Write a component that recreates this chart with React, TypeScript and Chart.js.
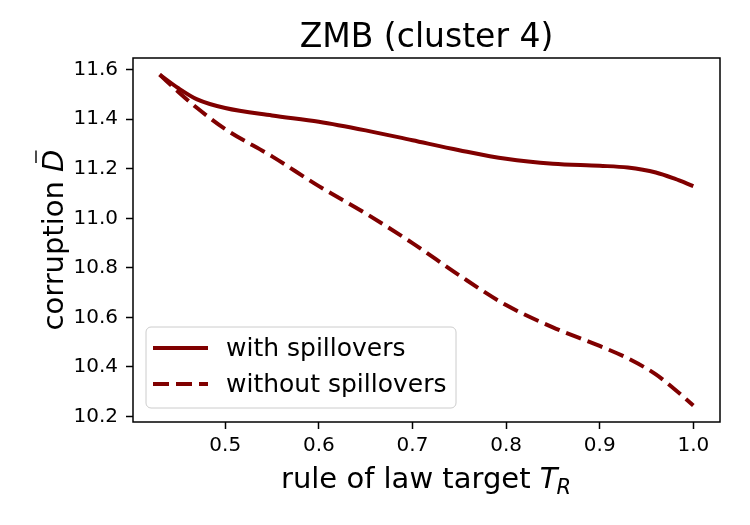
import React, { useEffect, useRef } from "react";
import { Chart, registerables } from "chart.js";

Chart.register(...registerables);

const X_VALUES = [0.43, 0.45, 0.47, 0.5, 0.55, 0.6, 0.65, 0.7, 0.75, 0.8, 0.85, 0.9, 0.93, 0.96, 0.98, 1.0];
const WITH_SPILLOVERS = [11.58, 11.525, 11.48, 11.445, 11.415, 11.39, 11.355, 11.315, 11.275, 11.24, 11.22, 11.212, 11.205, 11.185, 11.16, 11.13];
const WITHOUT_SPILLOVERS = [11.58, 11.51, 11.445, 11.36, 11.25, 11.13, 11.02, 10.9, 10.77, 10.65, 10.56, 10.485, 10.435, 10.37, 10.31, 10.245];
const X_TICKS = [0.5, 0.6, 0.7, 0.8, 0.9, 1.0];
const Y_TICKS = [10.2, 10.4, 10.6, 10.8, 11.0, 11.2, 11.4, 11.6];
const SERIES_LABELS = ["with spillovers", "without spillovers"];
const TITLE = "ZMB (cluster 4)";

const COLOR = "#800000";
const FONT = "'DejaVu Sans', sans-serif";

const decorPlugin = {
  id: "decor",
  afterDraw(chart: any) {
    const ctx = chart.ctx as CanvasRenderingContext2D;
    const a = chart.chartArea;
    const cx = (a.left + a.right) / 2;
    const cy = (a.top + a.bottom) / 2;
    ctx.save();
    // frame
    ctx.strokeStyle = "#000";
    ctx.lineWidth = 1.5;
    ctx.strokeRect(a.left, a.top, a.right - a.left, a.bottom - a.top);

    // title
    ctx.fillStyle = "#000";
    ctx.font = `33px ${FONT}`;
    ctx.textAlign = "center";
    ctx.textBaseline = "alphabetic";
    ctx.fillText(TITLE, cx, a.top - 11);

    // x label
    const xMain = "rule of law target ";
    ctx.font = `29px ${FONT}`;
    const wMain = ctx.measureText(xMain).width;
    ctx.font = `italic 29px ${FONT}`;
    const wT = ctx.measureText("T").width;
    ctx.font = `italic 21px ${FONT}`;
    const wR = ctx.measureText("R").width;
    const total = wMain + wT + wR;
    let x0 = cx - total / 2;
    const xb = a.bottom + 66;
    ctx.textAlign = "left";
    ctx.font = `29px ${FONT}`;
    ctx.fillText(xMain, x0, xb);
    ctx.font = `italic 29px ${FONT}`;
    ctx.fillText("T", x0 + wMain, xb);
    ctx.font = `italic 21px ${FONT}`;
    ctx.fillText("R", x0 + wMain + wT - 1, xb + 6);

    // y label
    ctx.save();
    ctx.translate(63, cy);
    ctx.rotate(-Math.PI / 2);
    const yMain = "corruption ";
    ctx.font = `29px ${FONT}`;
    const wy = ctx.measureText(yMain).width;
    ctx.font = `italic 29px ${FONT}`;
    const wD = ctx.measureText("D").width;
    const ty = wy + wD;
    const y0 = -ty / 2;
    ctx.font = `29px ${FONT}`;
    ctx.fillText(yMain, y0, 0);
    ctx.font = `italic 29px ${FONT}`;
    ctx.fillText("D", y0 + wy, 0);
    ctx.strokeStyle = "#000";
    ctx.lineWidth = 1.4;
    ctx.beginPath();
    ctx.moveTo(y0 + wy + 9, -27);
    ctx.lineTo(y0 + wy + wD - 1, -27);
    ctx.stroke();
    ctx.restore();

    // legend
    const lx = a.left + 13;
    const lw = 310;
    const lh = 81;
    const ly = a.bottom - 14 - lh;
    const r = 5;
    ctx.beginPath();
    ctx.moveTo(lx + r, ly);
    ctx.lineTo(lx + lw - r, ly);
    ctx.arcTo(lx + lw, ly, lx + lw, ly + r, r);
    ctx.lineTo(lx + lw, ly + lh - r);
    ctx.arcTo(lx + lw, ly + lh, lx + lw - r, ly + lh, r);
    ctx.lineTo(lx + r, ly + lh);
    ctx.arcTo(lx, ly + lh, lx, ly + lh - r, r);
    ctx.lineTo(lx, ly + r);
    ctx.arcTo(lx, ly, lx + r, ly, r);
    ctx.closePath();
    ctx.fillStyle = "rgba(255,255,255,0.8)";
    ctx.fill();
    ctx.strokeStyle = "#cccccc";
    ctx.lineWidth = 1;
    ctx.stroke();

    chart.data.datasets.forEach((ds: any, i: number) => {
      const rowY = ly + 21 + i * 36;
      ctx.beginPath();
      ctx.strokeStyle = ds.borderColor;
      ctx.lineWidth = ds.borderWidth;
      ctx.setLineDash(ds.borderDash || []);
      ctx.moveTo(lx + 7, rowY);
      ctx.lineTo(lx + 62, rowY);
      ctx.stroke();
      ctx.setLineDash([]);
      ctx.fillStyle = "#000";
      ctx.font = `25px ${FONT}`;
      ctx.textAlign = "left";
      ctx.textBaseline = "middle";
      ctx.fillText(ds.label, lx + 80, rowY + 1);
    });
    ctx.restore();
  },
};

export default function App() {
  const ref = useRef<HTMLCanvasElement | null>(null);
  useEffect(() => {
    if (!ref.current) return;
    const mk = (vals: number[]) => X_VALUES.map((x, i) => ({ x, y: vals[i] }));
    const chart = new Chart(ref.current, {
      type: "line",
      data: {
        datasets: [
          {
            label: SERIES_LABELS[0],
            data: mk(WITH_SPILLOVERS),
            borderColor: COLOR,
            borderWidth: 4,
            pointRadius: 0,
            fill: false,
            cubicInterpolationMode: "monotone",
          },
          {
            label: SERIES_LABELS[1],
            data: mk(WITHOUT_SPILLOVERS),
            borderColor: COLOR,
            borderWidth: 4,
            borderDash: [16, 7],
            pointRadius: 0,
            fill: false,
            cubicInterpolationMode: "monotone",
          },
        ],
      },
      options: {
        animation: false,
        responsive: false,
        devicePixelRatio: 1,
        layout: { padding: { left: 0, top: 58, right: 30, bottom: 0 } },
        plugins: {
          legend: { display: false },
          title: { display: false },
          tooltip: { enabled: false },
        },
        scales: {
          x: {
            type: "linear",
            min: 0.4015,
            max: 1.0285,
            afterBuildTicks: (s: any) => {
              s.ticks = X_TICKS.map((v) => ({ value: v }));
            },
            afterFit: (s: any) => {
              s.height = 103;
            },
            ticks: {
              color: "#000",
              font: { family: "DejaVu Sans", size: 20 },
              padding: 5,
              maxRotation: 0,
              callback: (v: any) => Number(v).toFixed(1),
            },
            grid: {
              display: true,
              drawOnChartArea: false,
              drawTicks: true,
              tickLength: 7,
              tickColor: "#000",
              tickWidth: 1.5,
            },
            border: { display: false },
          },
          y: {
            type: "linear",
            min: 10.178,
            max: 11.647,
            afterBuildTicks: (s: any) => {
              s.ticks = Y_TICKS.map((v) => ({ value: v }));
            },
            afterFit: (s: any) => {
              s.width = 133;
            },
            ticks: {
              color: "#000",
              font: { family: "DejaVu Sans", size: 20 },
              padding: 8,
              callback: (v: any) => Number(v).toFixed(1),
            },
            grid: {
              display: true,
              drawOnChartArea: false,
              drawTicks: true,
              tickLength: 7,
              tickColor: "#000",
              tickWidth: 1.5,
            },
            border: { display: false },
          },
        },
      },
      plugins: [decorPlugin],
    });
    return () => chart.destroy();
  }, []);
  return (
    <div style={{ position: "absolute", left: 0, top: 0, width: 750, height: 525, background: "#fff" }}>
      <canvas ref={ref} width={750} height={525} style={{ display: "block" }} />
    </div>
  );
}
